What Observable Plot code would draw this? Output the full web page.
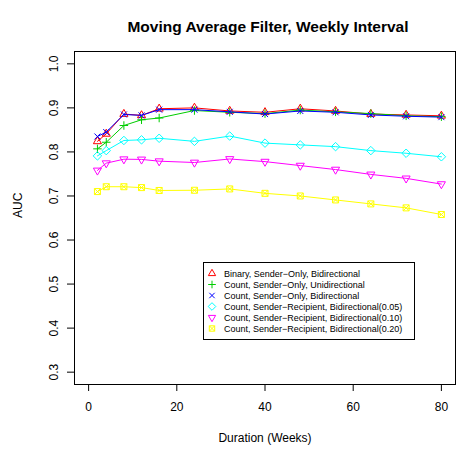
<!DOCTYPE html>
<html><head><meta charset="utf-8">
<script src="https://cdn.jsdelivr.net/npm/d3@7"></script>
<script src="https://cdn.jsdelivr.net/npm/@observablehq/plot@0.6"></script>
<style>body{margin:0;background:#fff} #chart{width:464px;height:452px}</style>
</head><body><div id="chart"></div>
<script>
const title = "Moving Average Filter, Weekly Interval";
const xLabel = "Duration (Weeks)";
const yLabel = "AUC";
const durations = [2, 4, 8, 12, 16, 24, 32, 40, 48, 56, 64, 72, 80];
const seriesNames = [
  "Binary, Sender\u2212Only, Bidirectional",
  "Count, Sender\u2212Only, Unidirectional",
  "Count, Sender\u2212Only, Bidirectional",
  "Count, Sender\u2212Recipient, Bidirectional(0.05)",
  "Count, Sender\u2212Recipient, Bidirectional(0.10)",
  "Count, Sender\u2212Recipient, Bidirectional(0.20)"
];
const seriesColors = ["#FF0000", "#00CD00", "#0000FF", "#00FFFF", "#FF00FF", "#FFFF00"];
const binarySenderOnlyBi = [0.824, 0.841, 0.886, 0.883, 0.898, 0.900, 0.893, 0.890, 0.898, 0.893, 0.886, 0.884, 0.882];
const countSenderOnlyUni = [0.807, 0.822, 0.860, 0.873, 0.877, 0.894, 0.890, 0.887, 0.895, 0.891, 0.887, 0.882, 0.880];
const countSenderOnlyBi = [0.835, 0.845, 0.885, 0.883, 0.896, 0.896, 0.891, 0.886, 0.893, 0.890, 0.884, 0.881, 0.879];
const countSenderRecip05 = [0.791, 0.803, 0.826, 0.8275, 0.831, 0.824, 0.836, 0.820, 0.816, 0.812, 0.803, 0.797, 0.789];
const countSenderRecip10 = [0.758, 0.7745, 0.7835, 0.783, 0.779, 0.776, 0.784, 0.778, 0.769, 0.760, 0.749, 0.740, 0.727];
const countSenderRecip20 = [0.710, 0.721, 0.721, 0.719, 0.7125, 0.713, 0.716, 0.706, 0.700, 0.691, 0.682, 0.673, 0.658];
const seriesValues = [binarySenderOnlyBi, countSenderOnlyUni, countSenderOnlyBi, countSenderRecip05, countSenderRecip10, countSenderRecip20];
const xTicks = [0, 20, 40, 60, 80];
const yTicks = [0.3, 0.4, 0.5, 0.6, 0.7, 0.8, 0.9, 1.0];

// R-style plotting symbols (pch 2..7); unit b = sqrt(size/pi) = r
const S3 = Math.sqrt(3), S2 = Math.SQRT2;
const mk = fn => ({draw(ctx, size) { fn(ctx, Math.sqrt(size / Math.PI)); }});
const triUp = mk((c, b) => { const r = 1.555 * b; c.moveTo(0, -r); c.lineTo(r * S3 / 2, r / 2); c.lineTo(-r * S3 / 2, r / 2); c.closePath(); });
const plus = mk((c, b) => { const r = S2 * b; c.moveTo(-r, 0); c.lineTo(r, 0); c.moveTo(0, -r); c.lineTo(0, r); });
const times = mk((c, b) => { c.moveTo(-b, -b); c.lineTo(b, b); c.moveTo(-b, b); c.lineTo(b, -b); });
const diamond = mk((c, b) => { const r = S2 * b; c.moveTo(0, -r); c.lineTo(r, 0); c.lineTo(0, r); c.lineTo(-r, 0); c.closePath(); });
const triDown = mk((c, b) => { const r = 1.555 * b; c.moveTo(0, r); c.lineTo(r * S3 / 2, -r / 2); c.lineTo(-r * S3 / 2, -r / 2); c.closePath(); });
const squareX = mk((c, b) => { c.moveTo(-b, -b); c.lineTo(b, -b); c.lineTo(b, b); c.lineTo(-b, b); c.closePath(); c.moveTo(-b, -b); c.lineTo(b, b); c.moveTo(-b, b); c.lineTo(b, -b); });
const seriesSymbols = [triUp, plus, times, diamond, triDown, squareX];
const symbolBase = 3;

const rows = seriesValues.map(vals => durations.map((d, i) => ({x: d, y: vals[i]})));

const marks = [Plot.frame({stroke: "black"})];
rows.forEach((data, k) => {
  marks.push(Plot.line(data, {x: "x", y: "y", stroke: seriesColors[k], strokeWidth: 1}));
  marks.push(Plot.dot(data, {x: "x", y: "y", stroke: seriesColors[k], fill: "none", strokeWidth: 1, r: symbolBase, symbol: seriesSymbols[k]}));
});
marks.push(
  Plot.axisX({ticks: xTicks, tickSize: 7, tickPadding: 11, label: null, fontSize: 12}),
  Plot.axisY({ticks: yTicks, tickFormat: d3.format(".1f"), tickSize: 7, tickPadding: 10, tickRotate: -90, label: null, fontSize: 12}),
  Plot.text([title], {text: d => d, frameAnchor: "top", dx: 3, dy: -31, fontWeight: "bold", fontSize: 15.5}),
  Plot.text([xLabel], {text: d => d, frameAnchor: "bottom", dy: 57, fontSize: 12}),
  Plot.text([yLabel], {text: d => d, frameAnchor: "left", dx: -56, rotate: -90, fontSize: 12})
);

const chart = Plot.plot({
  width: 464, height: 452,
  marginLeft: 74, marginRight: 9, marginTop: 51, marginBottom: 68,
  x: {domain: [-3.2, 83.2]},
  y: {domain: [0.272, 1.028]},
  style: {fontFamily: "'Liberation Sans', Arial, sans-serif", fontSize: "12px", background: "white", color: "black"},
  marks
});
document.getElementById("chart").appendChild(chart);

// legend placed in data coordinates like R's legend(x, y)
const legendAt = [26, 0.549];
const sx = chart.scale("x"), sy = chart.scale("y");
const lx = Math.round(sx.apply(legendAt[0])) + 0.5, ly = Math.round(sy.apply(legendAt[1])) + 0.5;
const svg = d3.select(chart);
const g = svg.append("g").attr("font-family", "'Liberation Sans', Arial, sans-serif").attr("font-size", 9).attr("text-anchor", "start");
const rowH = 11, pad = 11;
const lg = g.append("rect").attr("x", lx).attr("y", ly).attr("height", rowH * seriesNames.length + 11).attr("fill", "white").attr("stroke", "black");
let maxW = 0;
seriesNames.forEach((name, k) => {
  const cy = ly + pad + k * rowH;
  g.append("path").attr("d", d3.symbol(seriesSymbols[k], Math.PI * 2.7 * 2.7)()).attr("transform", `translate(${lx + 8.5},${cy})`)
    .attr("fill", "none").attr("stroke", seriesColors[k]).attr("stroke-width", 1);
  const t = g.append("text").attr("x", lx + 20.5).attr("y", cy).attr("dy", "0.35em").attr("fill", "black").text(name);
  maxW = Math.max(maxW, t.node().getComputedTextLength());
});
lg.attr("width", Math.round(20.5 + maxW + 12));
</script></body></html>
